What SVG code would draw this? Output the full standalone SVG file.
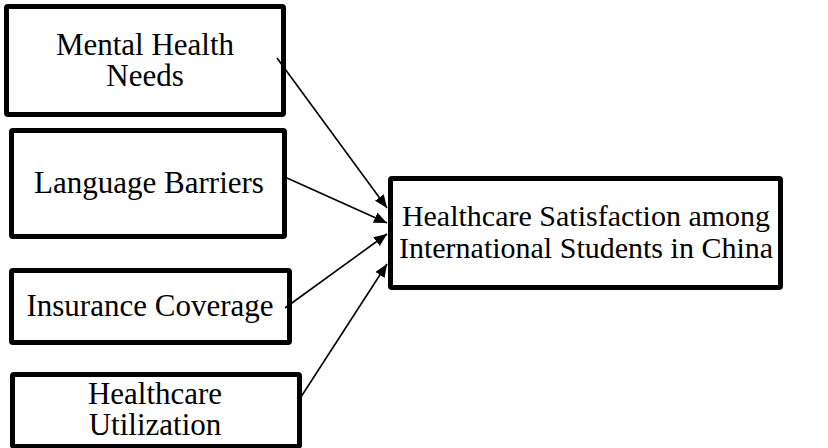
<svg xmlns="http://www.w3.org/2000/svg" width="828" height="448" viewBox="0 0 828 448">
  <style>
    .box { fill: #ffffff; stroke: #000000; stroke-width: 5; }
    .lbl { font-family: "Liberation Serif", "Times New Roman", serif; font-size: 31px; fill: #000000; text-anchor: middle; }
    .lbl-out { font-size: 30px; }
    .edge { stroke: #000000; stroke-width: 1.6; fill: none; marker-end: url(#head); }
  </style>
  <defs>
    <marker id="head" viewBox="0 0 13 11" refX="13" refY="5.5" markerWidth="13" markerHeight="11" markerUnits="userSpaceOnUse" orient="auto">
      <path d="M0,0 L13,5.5 L0,11 Z" fill="#000000"/>
    </marker>
  </defs>

  <rect width="828" height="448" fill="#ffffff"/>

  <g id="mental-health-needs">
    <rect class="box" x="6.5" y="6.5" width="277" height="108" rx="1.5"/>
    <text class="lbl" x="145" y="55">Mental Health</text>
    <text class="lbl" x="145" y="86">Needs</text>
  </g>

  <g id="language-barriers">
    <rect class="box" x="11.5" y="130.5" width="273" height="106" rx="1.5"/>
    <text class="lbl" x="149" y="193">Language Barriers</text>
  </g>

  <g id="insurance-coverage">
    <rect class="box" x="11.5" y="270.5" width="278" height="72" rx="1.5"/>
    <text class="lbl" x="150" y="316">Insurance Coverage</text>
  </g>

  <g id="healthcare-utilization">
    <rect class="box" x="12.5" y="374.5" width="287" height="72" rx="1.5"/>
    <text class="lbl" x="155" y="404">Healthcare</text>
    <text class="lbl" x="155" y="435">Utilization</text>
  </g>

  <g id="healthcare-satisfaction">
    <rect class="box" x="390.5" y="178.5" width="390" height="109" rx="1.5"/>
    <text class="lbl lbl-out" x="586" y="226">Healthcare Satisfaction among</text>
    <text class="lbl lbl-out" x="586" y="258">International Students in China</text>
  </g>

  <g id="connectors">
    <line class="edge" x1="277" y1="58" x2="387" y2="208"/>
    <line class="edge" x1="287" y1="178" x2="387" y2="223"/>
    <line class="edge" x1="285" y1="308" x2="387" y2="234"/>
    <line class="edge" x1="299" y1="400" x2="387" y2="264"/>
  </g>
</svg>
